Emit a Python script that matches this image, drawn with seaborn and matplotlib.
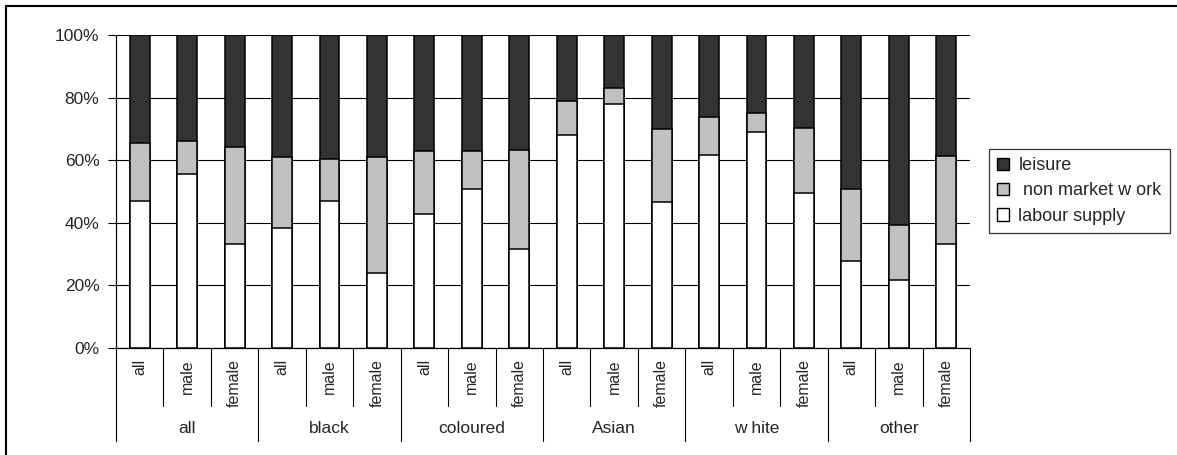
import matplotlib
matplotlib.use('Agg')
import matplotlib.pyplot as plt
import seaborn as sns
import pandas as pd
from matplotlib.lines import Line2D
from matplotlib.patches import Patch
import matplotlib.transforms as mtransforms

# Data (shares of time, %)
groups = ['all', 'black', 'coloured', 'Asian', 'w hite', 'other']
subgroups = ['all', 'male', 'female']
labour_supply = [47.1, 55.5, 33.4, 38.2, 47.1, 24.1, 42.9, 50.9, 31.7,
                 68.1, 78.0, 46.6, 61.6, 69.0, 49.5, 27.9, 21.8, 33.4]
non_market_work = [18.5, 10.5, 30.9, 22.8, 13.3, 36.9, 20.1, 12.1, 31.6,
                   10.8, 5.1, 23.4, 12.1, 6.0, 20.9, 22.8, 17.6, 28.1]
leisure = [100 - a - b for a, b in zip(labour_supply, non_market_work)]

cats = [f'{g}|{s}' for g in groups for s in subgroups]
df = pd.DataFrame({'cat': cats, 'labour': labour_supply,
                   'nonmarket': non_market_work, 'leisure': leisure})
df['top_nm'] = df['labour'] + df['nonmarket']
df['total'] = df['top_nm'] + df['leisure']

sns.set_style('white')
plt.rcParams['font.family'] = ['Liberation Sans', 'DejaVu Sans']

c_leis, c_nm, c_lab = '#333333', '#c0c0c0', '#ffffff'

fig = plt.figure(figsize=(11.77, 4.55), dpi=100)
ax = fig.add_axes([0.0986, 0.235, 0.7255, 0.688])

bar_kw = dict(order=cats, width=0.42, edgecolor='black', linewidth=1.1, ax=ax, zorder=3)
sns.barplot(data=df, x='cat', y='total', color=c_leis, saturation=1, **bar_kw)
sns.barplot(data=df, x='cat', y='top_nm', color=c_nm, saturation=1, **bar_kw)
sns.barplot(data=df, x='cat', y='labour', color=c_lab, saturation=1, **bar_kw)

n = len(cats)
ax.set_xlim(-0.5, n - 0.5)
ax.set_ylim(0, 100)
ax.set_yticks(range(0, 101, 20))
ax.set_yticklabels([f'{v}%' for v in range(0, 101, 20)], fontsize=12.5)
ax.yaxis.grid(True, color='black', linewidth=0.8)
ax.set_axisbelow(True)
ax.tick_params(axis='y', length=6, width=0.8, pad=6, left=True, color='black')
ax.set_xticks([])
ax.set_xlabel('')
ax.set_ylabel('')
for s in ['top', 'right']:
    ax.spines[s].set_visible(False)
for s in ['left', 'bottom']:
    ax.spines[s].set_color('black')
    ax.spines[s].set_linewidth(0.9)

# two-level category axis
trans = mtransforms.blended_transform_factory(ax.transData, ax.transAxes)
for i in range(n + 1):
    xb = i - 0.5
    y_end = -0.297 if i % 3 == 0 else -0.185
    ax.add_line(Line2D([xb, xb], [0, y_end], transform=trans, color='black',
                       linewidth=0.8, clip_on=False))
for i, c in enumerate(cats):
    sub = c.split('|')[1]
    ax.text(i, -0.035, sub, transform=trans, rotation=90, ha='center', va='top',
            fontsize=11.5)
for j, g in enumerate(groups):
    ax.text(3 * j + 1, -0.256, g, transform=trans, ha='center', va='center',
            fontsize=12.5)

# legend
handles = [Patch(facecolor=c_leis, edgecolor='black', label='leisure'),
           Patch(facecolor=c_nm, edgecolor='black', label=' non market w ork'),
           Patch(facecolor=c_lab, edgecolor='black', label='labour supply')]
leg = fig.legend(handles=handles, loc='upper left', bbox_to_anchor=(0.840, 0.672),
                 frameon=True, fancybox=False, fontsize=13, handlelength=0.7,
                 handleheight=0.7, handletextpad=0.5, labelspacing=0.45,
                 borderpad=0.45, borderaxespad=0)
leg.get_frame().set_edgecolor('black')
leg.get_frame().set_linewidth(0.9)

# outer chart border (top and left visible)
fig.add_artist(Line2D([0.0055, 0.0055], [0, 0.987], transform=fig.transFigure,
                      color='black', linewidth=1.5))
fig.add_artist(Line2D([0.0055, 1.0], [0.987, 0.987], transform=fig.transFigure,
                      color='black', linewidth=1.5))

fig.savefig('out.png', dpi=100)
